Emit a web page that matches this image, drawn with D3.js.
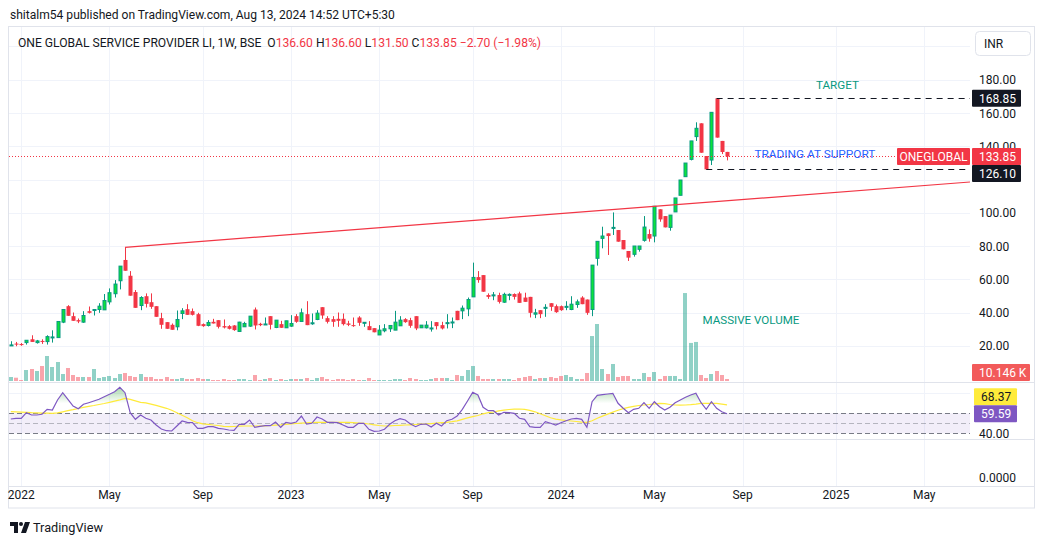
<!DOCTYPE html>
<html><head><meta charset="utf-8">
<script src="https://cdn.jsdelivr.net/npm/d3@7"></script>
<style>
html,body{margin:0;padding:0;background:#fff;}
svg{display:block;font-family:Roboto,"Noto Sans",sans-serif;}
text{white-space:pre;}
</style></head><body>
<svg id="c" width="1045" height="545"></svg>
<script>
// ---------- DATA (weekly candles, first bar week of 2021-12-20) ----------
const firstWeek = "2021-12-20";
const opens  = [20.3,21.3,21.0,21.9,23.9,21.9,22.9,22.5,24.9,24.9, 34.2,43.8,37.8,35.4,34.2,40.8,41.4,41.8,41.6,46.4, 51.3,59.1,71.6,62.1,52.3,44.2,49.8,46.2,43.8,36.6, 34.2,32.6,31.4,39.4,42.0,40.8,39.0,33.0,32.2,34.4, 35.4,31.8,31.8,32.2,28.6,31.4,31.8,41.8,33.2,33.0, 37.8,31.0,33.0,30.8,31.8,37.8,34.6,39.0,33.4,35.8, 43.2,36.6,36.0,36.2,36.2,33.4,32.4,37.0,34.0,31.8, 30.6,26.5,29.0,30.2,29.4,32.0,36.0,35.4,37.8,30.8, 30.8,30.6,34.2,32.4,33.8,34.2,41.0,41.0,42.2,49.4, 61.3,62.5,50.5,50.5,50.5,46.2,50.3,51.1,51.5,49.0, 49.4,39.0,41.4,43.0,45.6,43.8,43.8,43.6,41.8,44.8, 49.0,47.8,41.8,72.6,84.6,87.6,91.0,89.6,83.6,77.0, 75.0,78.0,83.4,87.2,86.0,102.1,98.0,91.2,100.5,110.5, 121.7,132.1,145.8,153.8,134.1,131.7,168.85,143.2,136.60];
const highs  = [22.7,22.3,21.6,23.3,26.3,23.5,23.9,26.3,29.3,34.6, 42.0,44.4,40.0,36.4,40.8,43.6,41.8,45.6,51.1,54.5, 59.5,67.9,79.2,64.9,53.5,49.8,51.5,51.5,43.8,39.8, 34.2,33.4,41.2,42.6,45.0,42.4,39.8,33.4,35.4,36.2, 35.4,35.8,32.4,32.4,34.4,34.4,37.8,43.0,33.8,37.0, 37.8,35.4,35.0,35.0,38.4,39.0,42.4,46.8,39.4,41.4, 43.2,37.8,37.8,40.0,39.4,35.0,37.0,37.8,34.0,34.8, 30.6,32.4,33.0,32.2,41.0,37.8,36.6,36.8,37.8,32.4, 34.8,34.8,34.2,34.4,39.0,37.0,41.0,44.2,49.0,70.0, 64.9,62.5,51.5,52.3,51.9,51.9,51.5,51.5,52.5,51.9, 49.4,42.2,41.4,45.0,45.6,44.8,44.2,46.8,49.8,47.8, 49.8,47.8,68.5,82.8,91.6,87.6,100.2,89.6,83.6,77.0, 80.0,80.0,98.0,90.0,103.9,102.1,98.0,98.6,108.9,119.7, 129.9,143.2,154.4,153.8,134.1,160.4,168.85,143.2,136.60];
const lows   = [20.0,19.7,20.0,20.7,22.3,21.3,21.1,20.7,21.9,24.9, 33.6,38.0,35.0,33.6,33.8,39.4,38.2,39.8,41.6,44.8, 49.0,53.9,65.1,50.1,42.8,41.4,43.0,42.2,37.4,30.2, 30.2,29.6,29.3,36.0,38.6,38.2,31.8,31.4,31.6,33.4, 30.4,30.4,29.8,29.0,28.4,31.4,31.4,29.8,31.8,33.0, 29.8,30.6,30.8,30.8,31.4,33.8,34.6,32.4,32.6,35.4, 36.2,33.4,31.4,31.4,32.2,31.8,31.4,32.0,31.4,29.4, 28.1,26.5,28.1,28.3,29.4,32.0,33.8,30.8,29.4,30.8, 30.4,28.5,29.8,29.8,30.4,30.6,35.4,36.0,37.8,49.4, 57.9,52.5,48.2,47.4,45.4,45.8,47.4,47.8,45.8,46.4, 37.0,36.6,36.6,37.4,41.0,39.8,41.0,41.4,41.4,42.8, 45.0,38.6,37.8,68.2,78.6,74.6,86.6,82.6,78.0,71.0, 73.6,76.6,82.6,82.6,82.2,94.6,91.2,89.2,100.5,110.5, 121.7,131.5,143.2,136.1,126.1,128.7,145.2,135.3,131.50];
const closes = [20.5,21.0,20.8,23.3,22.3,22.9,22.5,25.5,25.3,34.6, 41.8,38.0,35.0,34.6,38.2,39.8,41.8,43.8,47.2,51.9, 57.1,67.9,65.1,50.1,42.8,49.0,45.2,43.4,37.4,32.6, 30.2,29.6,35.8,41.0,38.6,38.6,32.0,31.8,34.0,33.4, 31.4,31.0,30.2,29.4,34.2,33.4,37.8,32.2,32.4,33.1, 32.6,35.4,30.8,35.0,33.4,34.4,39.8,32.4,33.8,39.6, 38.2,34.4,34.4,35.0,33.0,32.6,31.8,33.8,34.1,29.4, 28.1,29.4,30.2,32.2,34.2,35.4,34.2,32.0,30.4,32.4, 32.4,30.7,31.8,30.4,33.9,34.3,35.4,42.6,47.8,61.1, 59.5,52.5,49.4,50.6,46.4,50.9,50.9,49.4,45.8,46.4, 39.8,39.8,39.0,43.1,43.4,40.2,41.4,43.7,45.0,46.4, 45.0,39.8,68.5,82.8,86.0,86.0,91.2,82.6,78.0,73.0, 80.0,80.0,91.4,84.4,103.9,96.0,91.2,98.6,108.9,119.7, 129.9,143.2,150.8,136.1,126.1,160.4,145.2,136.55,133.85];
const volumesK = [20.3,16.7,5.1,55.8,60.8,50.7,76.1,126.8,71.0,96.3, 35.5,65.9,30.4,20.3,20.3,20.3,60.8,15.2,20.3,25.4, 15.2,35.5,40.6,25.4,20.3,35.5,20.3,20.3,10.1,10.1, 20.3,10.1,10.1,15.2,10.1,10.1,15.2,10.1,10.1,5.1, 5.1,10.1,5.1,5.1,10.1,10.1,5.1,30.4,5.1,10.1, 15.2,5.1,10.1,5.1,10.1,10.1,10.1,15.2,5.1,15.2, 20.3,10.1,5.1,10.1,10.1,5.1,10.1,5.1,5.1,15.2, 5.1,5.1,5.1,5.1,10.1,10.1,5.1,15.2,10.1,5.1, 5.1,10.1,15.2,15.2,15.2,5.1,30.4,25.4,55.8,76.1, 25.4,10.1,10.1,10.1,10.1,10.1,10.1,5.1,15.2,20.3, 25.4,10.1,15.2,15.2,20.3,15.2,25.4,30.4,20.3,10.1, 10.1,40.6,228.0,289.0,60.8,35.5,86.2,20.3,25.4,25.4, 10.1,10.1,40.6,20.3,45.6,10.1,25.4,25.4,25.4,10.1, 446.0,193.0,198.0,30.4,15.2,35.5,50.7,30.4,10.146];
const rsiValues = [54.3,55,55,60.6,58.3,58.3,59,64,63.3,73.3, 80.6,74,67.3,64.6,69,70.6,72.3,74,76.6,79, 81.6,86,80.6,60.6,54,58.3,55,53.3,48.3,44.3, 42.6,42.3,47.3,52.3,51,50.6,45,45,46.6,46.6, 45,44.3,43.3,43,49,49,53.3,46,47,47.6, 47.6,51.3,46,51,50,51.3,57.3,49.3,50,56.3, 54.3,51,51,50.6,48.3,46,46,50,50,44, 42,42.3,44,49,52.6,54.6,53.3,49.3,46.6,49, 49.3,46.3,50,47.3,52.6,54,57.3,64,72.3,81, 78.3,66,62.6,62.6,58.3,61,60.6,60,55,54, 46.6,46,46,51.6,50,48.3,50.6,52.6,54.3,55, 54,46,71.6,78,78.6,79.3,80,70,65,60.6, 64,65,70.6,65,71.6,66.6,63.3,66,70.6,73.3, 76,78.3,80,70.6,64,71.6,65,61.6,59.59];
const rsiMA = [61.6,61.4,61.2,61,60.6,60.4,60.2,60.1,60,60.5, 61.5,62.6,63.6,64.8,66,67,67.8,68.8,69.8,71, 72.2,73.5,75,74,72.5,71,70.5,69.2,68,66.5, 65,63,60.5,58,55.5,52.5,50.6,49.4,49,48.3, 47.8,47,46.6,46.8,47.2,47.3,47.3,47.3,47.3,47.5, 47.8,48.2,48.5,49,49.4,49.8,50.2,50.5,50.8,51, 51,51,51,51,51,50.9,50.6,50.3,50,49.3, 48.5,47.8,47.3,47.5,47.8,48,48.3,48.5,48.8,49.1, 49.3,49.7,50.1,50.6,51,51.6,52.5,54,55.5,56.6, 57.8,59.5,60.6,61.3,62.4,63.2,63.8,64.2,64.3,64, 63,61.5,59.5,57.5,55.5,54.2,53.4,52.8,52.3,51.8, 51.2,51,52.5,55,57.2,59.2,61.2,63,64.6,66, 67,67.8,68.3,68.8,69.5,70,69.6,68.8,68.3,68.2, 68.3,68.6,69.2,70,70,70,70,69.2,68.37];
const priceTicks = [20,40,60,80,100,120,140,160,180,200];
const priceTickLabels = ["20.00","40.00","60.00","80.00","100.00","120.00","140.00","160.00","180.00","200.00"];
const timeTickDates = ["2022-01-03","2022-05-02","2022-09-05","2023-01-02","2023-05-01","2023-09-04","2024-01-01","2024-05-06","2024-09-02","2025-01-06","2025-05-05"];
const timeTickLabels = ["2022","May","Sep","2023","May","Sep","2024","May","Sep","2025","May"];
const rsiBands = [60,50,40];
const trendPoints = [{bar:22, price:79.2},{bar:138, price:107.2}];
const targetLevel = {bar:136, price:168.85};
const supportLevel = {bar:134, price:126.10};
const annotations = [
  {text:"TARGET", date:"2024-12-10", price:174.3, color:"#089981", len:43},
  {text:"TRADING AT SUPPORT", date:"2024-09-18", price:132.8, color:"#2962FF", len:121},
  {text:"MASSIVE VOLUME", date:"2024-07-10", price:33.2, color:"#089981", len:97}
];

// ---------- LAYOUT ----------
const svg = d3.select("#c");
const L = 9, R = 970;
const mainTop = 27, mainBot = 382, rsiTop = 383, rsiBot = 439, p3Top = 440, p3Bot = 486, frameBot = 508;
const UP = "#089981", DN = "#F23645", UPBODY = "#0be33a", DARK = "#131722", GRID = "#f0f3fa", BORDER = "#e0e3eb";

const parse = d3.utcParse("%Y-%m-%d");
const n = closes.length;
const dates = d3.range(n).map(i => d3.utcDay.offset(parse(firstWeek), 7 * i));
const x = d3.scaleUtc().domain([parse("2022-01-03"), parse("2025-01-06")]).range([21.2, 836.0]);
const y = d3.scaleLinear().domain([0, 180]).range([379, 79.75]);
const yv = d3.scaleLinear().domain([0, 500]).range([381, 282.4]);
const yr = d3.scaleLinear().domain([40, 60]).range([433.3, 413.3]);

function fitWidth(sel, target) {
  const w = sel.node().getComputedTextLength();
  const fs = parseFloat(sel.attr("font-size"));
  if (w > 0) sel.attr("font-size", (fs * target / w).toFixed(2));
}

const defs = svg.append("defs");
defs.append("clipPath").attr("id", "clipMain").append("rect").attr("x", L).attr("y", mainTop).attr("width", R - L).attr("height", mainBot - mainTop);
defs.append("clipPath").attr("id", "clipRsi").append("rect").attr("x", L).attr("y", rsiTop).attr("width", R - L).attr("height", rsiBot - rsiTop);
defs.append("clipPath").attr("id", "clipOB").append("rect").attr("x", L).attr("y", rsiTop).attr("width", R - L).attr("height", yr(70) - rsiTop);
const grad = defs.append("linearGradient").attr("id", "obGrad").attr("gradientUnits", "userSpaceOnUse")
  .attr("x1", 0).attr("x2", 0).attr("y1", yr(100)).attr("y2", yr(70));
grad.append("stop").attr("offset", 0).attr("stop-color", "#4CAF50").attr("stop-opacity", 0.9);
grad.append("stop").attr("offset", 1).attr("stop-color", "#4CAF50").attr("stop-opacity", 0);

// ---------- HEADER ----------
const hdr = svg.append("text").attr("x", 10).attr("y", 19).attr("font-size", 13).attr("fill", DARK)
  .text("shitalm54 published on TradingView.com, Aug 13, 2024 14:52 UTC+5:30");
fitWidth(hdr, 385);

// frame
svg.append("rect").attr("x", 8.5).attr("y", 26.5).attr("width", 1026).attr("height", frameBot - 26.5)
  .attr("fill", "none").attr("stroke", BORDER);

// ---------- GRID ----------
const g = svg.append("g");
g.selectAll(".vg").data(timeTickDates).join("line")
  .attr("x1", d => Math.round(x(parse(d))) + 0.5).attr("x2", d => Math.round(x(parse(d))) + 0.5)
  .attr("y1", mainTop).attr("y2", p3Bot).attr("stroke", GRID);
g.selectAll(".hg").data(priceTicks).join("line")
  .attr("x1", L).attr("x2", R).attr("y1", d => Math.round(y(d)) + 0.5).attr("y2", d => Math.round(y(d)) + 0.5)
  .attr("stroke", GRID);
g.append("line").attr("x1", L).attr("x2", R).attr("y1", Math.round(yr(80)) + 0.5).attr("y2", Math.round(yr(80)) + 0.5).attr("stroke", GRID);

// pane separators
[mainBot + 0.5, rsiBot + 0.5, p3Bot + 0.5].forEach(v =>
  svg.append("line").attr("x1", 8.5).attr("x2", 1034.5).attr("y1", v).attr("y2", v).attr("stroke", BORDER));

// ---------- MAIN PANE ----------
const main = svg.append("g").attr("clip-path", "url(#clipMain)");
const isUp = i => closes[i] >= opens[i];
const cx = i => Math.round(x(dates[i])) + 0.5;

// volume
main.selectAll(".vol").data(volumesK).join("rect")
  .attr("x", (d, i) => cx(i) - 2.5).attr("width", 4)
  .attr("y", d => yv(d)).attr("height", d => yv(0) - yv(d))
  .attr("fill", (d, i) => isUp(i) ? "rgba(8,153,129,0.45)" : "rgba(242,54,69,0.45)");

// wicks
main.selectAll(".wick").data(closes).join("line")
  .attr("x1", (d, i) => cx(i)).attr("x2", (d, i) => cx(i))
  .attr("y1", (d, i) => y(highs[i])).attr("y2", (d, i) => y(lows[i]))
  .attr("stroke", (d, i) => isUp(i) ? UP : DN).attr("stroke-width", 1);

// bodies
main.selectAll(".body").data(closes).join("rect")
  .attr("x", (d, i) => isUp(i) ? cx(i) - 1.5 : cx(i) - 2)
  .attr("width", (d, i) => isUp(i) ? 3 : 4)
  .attr("y", (d, i) => y(Math.max(opens[i], closes[i])))
  .attr("height", (d, i) => Math.max(1, y(Math.min(opens[i], closes[i])) - y(Math.max(opens[i], closes[i]))))
  .attr("fill", (d, i) => isUp(i) ? UPBODY : DN)
  .attr("stroke", (d, i) => isUp(i) ? UP : "none").attr("stroke-width", 1);

// trend line (ray)
const tp1 = [x(dates[trendPoints[0].bar]), y(trendPoints[0].price)];
const tp2 = [x(dates[trendPoints[1].bar]), y(trendPoints[1].price)];
const slope = (tp2[1] - tp1[1]) / (tp2[0] - tp1[0]);
main.append("line").attr("x1", tp1[0]).attr("y1", tp1[1]).attr("x2", R).attr("y2", tp1[1] + slope * (R - tp1[0]))
  .attr("stroke", DN).attr("stroke-width", 1.2);

// dashed levels
[targetLevel, supportLevel].forEach(lv => {
  main.append("line").attr("x1", x(dates[lv.bar])).attr("x2", R)
    .attr("y1", Math.round(y(lv.price)) + 0.5).attr("y2", Math.round(y(lv.price)) + 0.5)
    .attr("stroke", DARK).attr("stroke-width", 1).attr("stroke-dasharray", "6,5");
});

// current price dotted line
const last = closes[n - 1];
main.append("line").attr("x1", L).attr("x2", 897).attr("y1", Math.round(y(last)) + 0.5).attr("y2", Math.round(y(last)) + 0.5)
  .attr("stroke", DN).attr("stroke-dasharray", "1,2");

// annotations
annotations.forEach(a => {
  const t = main.append("text").attr("x", x(parse(a.date))).attr("y", y(a.price))
    .attr("font-size", 13).attr("fill", a.color).text(a.text);
  fitWidth(t, a.len);
});

// legend
const fmt2 = d3.format(".2f");
const chg = closes[n - 1] - closes[n - 2];
const pct = chg / closes[n - 2] * 100;
const legendParts = [
  ["ONE GLOBAL SERVICE PROVIDER LI, 1W, BSE  O", DARK], [fmt2(opens[n - 1]), DN],
  [" H", DARK], [fmt2(highs[n - 1]), DN], [" L", DARK], [fmt2(lows[n - 1]), DN],
  [" C", DARK], [fmt2(closes[n - 1]), DN], [" " + fmt2(chg) + " (" + fmt2(pct) + "%)", DN]
];
const lg = svg.append("text").attr("x", 18).attr("y", 47).attr("font-size", 13);
legendParts.forEach(p => lg.append("tspan").attr("fill", p[1]).text(p[0]));
fitWidth(lg, 523);

// ---------- PRICE AXIS ----------
const ax = svg.append("g").attr("font-size", 12);
const last_y = y(closes[n - 1]);
const tagBoxes = [];
function tag(xl, w, yc, fill, txt, tcol, anchor) {
  ax.append("rect").attr("x", xl).attr("y", yc - 8.5).attr("width", w).attr("height", 17).attr("fill", fill).attr("rx", 1);
  ax.append("text").attr("x", anchor === "middle" ? xl + w / 2 : xl + 7).attr("y", yc + 4.5)
    .attr("text-anchor", anchor === "middle" ? "middle" : "start").attr("fill", tcol).text(txt);
}
const yTarget = y(targetLevel.price), yLast = y(last);
let ySupport = y(supportLevel.price);
if (ySupport - yLast < 17) ySupport = yLast + 17;
[yTarget, yLast, ySupport].forEach(v => tagBoxes.push([v - 8.5, v + 8.5]));
priceTicks.forEach((p, k) => {
  const yy = y(p);
  const hidden = tagBoxes.some(b => yy >= b[0] && yy <= b[1]);
  if (yy > 70 && yy < mainBot - 8 && !hidden)
    ax.append("text").attr("x", 979).attr("y", yy + 4.5).attr("fill", DARK).text(priceTickLabels[k]);
});
tag(972, 49, yTarget, "#131722", fmt2(targetLevel.price), "#fff");
tag(972, 49, ySupport, "#131722", fmt2(supportLevel.price), "#fff");
tag(897, 73, yLast, DN, "ONEGLOBAL", "#fff", "middle");
tag(972, 49, yLast, DN, fmt2(last), "#fff");
const yVolLbl = Math.min(yv(volumesK[n - 1]), mainBot - 9.5);
tag(972, 58, yVolLbl, "#f25a5a", d3.format(".3f")(volumesK[n - 1]) + " K", "#fff");

// INR box
svg.append("rect").attr("x", 975.5).attr("y", 31.5).attr("width", 55).attr("height", 24).attr("rx", 4)
  .attr("fill", "#fff").attr("stroke", BORDER);
svg.append("text").attr("x", 984).attr("y", 48).attr("font-size", 12).attr("fill", DARK).text("INR");

// ---------- RSI PANE ----------
const rp = svg.append("g").attr("clip-path", "url(#clipRsi)");
rp.append("rect").attr("x", L).attr("width", R - L).attr("y", yr(60)).attr("height", yr(40) - yr(60))
  .attr("fill", "rgba(126,87,194,0.1)");
rsiBands.forEach(b => rp.append("line").attr("x1", L).attr("x2", R)
  .attr("y1", Math.round(yr(b)) + 0.5).attr("y2", Math.round(yr(b)) + 0.5)
  .attr("stroke", "#787B86").attr("stroke-opacity", b === 50 ? 0.5 : 1).attr("stroke-dasharray", "5,3"));
const obArea = d3.area().x((d, i) => x(dates[i])).y0(yr(50)).y1(d => yr(d));
rp.append("path").datum(rsiValues).attr("d", obArea).attr("fill", "url(#obGrad)").attr("clip-path", "url(#clipOB)");
rp.append("path").datum(rsiMA).attr("d", d3.line().x((d, i) => x(dates[i])).y(d => yr(d)))
  .attr("fill", "none").attr("stroke", "#FFEB3B").attr("stroke-width", 1.2);
rp.append("path").datum(rsiValues).attr("d", d3.line().x((d, i) => x(dates[i])).y(d => yr(d)))
  .attr("fill", "none").attr("stroke", "#7E57C2").attr("stroke-width", 1.2);

// RSI axis labels
ax.append("text").attr("x", 979).attr("y", yr(40) + 4.5).attr("fill", DARK).text("40.00");
let yRsi = yr(rsiValues[n - 1]), yMA = yr(rsiMA[n - 1]);
if (yRsi - yMA < 17) yMA = yRsi - 17;
tag(974, 43, yMA, "#FFEB3B", fmt2(rsiMA[n - 1]), DARK);
tag(974, 43, yRsi, "#7E57C2", fmt2(rsiValues[n - 1]), "#fff");

// third pane
ax.append("text").attr("x", 979).attr("y", 482).attr("fill", DARK).text("0.0000");

// ---------- TIME AXIS ----------
const ta = svg.append("g").attr("font-size", 12).attr("fill", DARK);
timeTickDates.forEach((d, k) => {
  ta.append("text").attr("x", x(parse(d))).attr("y", 499).attr("text-anchor", "middle").text(timeTickLabels[k]);
});

// ---------- FOOTER ----------
const logo = svg.append("g").attr("fill", DARK);
logo.append("path").attr("d", "M10,522 H18 V533 H14 V526 H10 Z");
logo.append("circle").attr("cx", 21).attr("cy", 524).attr("r", 2);
logo.append("path").attr("d", "M25,522 H30 L26,533 H21 Z");
const ft = svg.append("text").attr("x", 33).attr("y", 532).attr("font-size", 14).attr("fill", DARK).text("TradingView");
fitWidth(ft, 70);
</script>
</body></html>
